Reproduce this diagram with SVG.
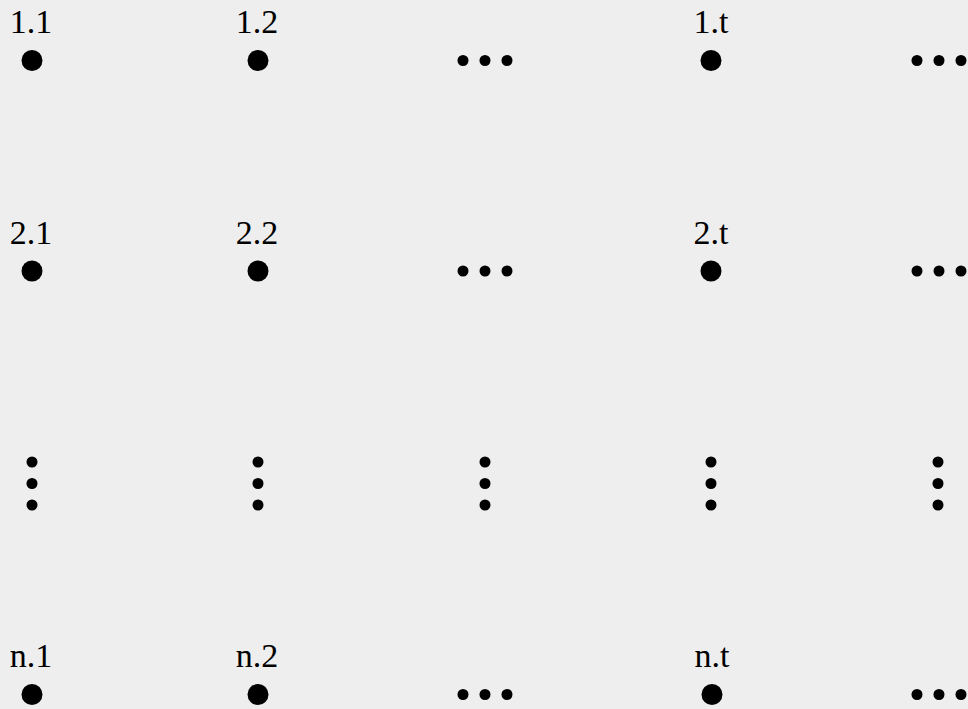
<svg xmlns="http://www.w3.org/2000/svg" width="968" height="709" viewBox="0 0 968 709">
<style>
.lbl{font-family:"Liberation Serif","DejaVu Serif",serif;font-size:34px;fill:#000;text-anchor:middle}
.node{fill:#000}
.dot{fill:#000}
</style>
<defs>
<g id="hdots"><circle cx="-22" cy="0" r="5.5"/><circle cx="0" cy="0" r="5.5"/><circle cx="22" cy="0" r="5.5"/></g>
<g id="vdots"><circle cx="0" cy="-21.5" r="5.5"/><circle cx="0" cy="0" r="5.5"/><circle cx="0" cy="21.5" r="5.5"/></g>
</defs>
<rect width="968" height="709" fill="#eeeeee"/>
<g id="n11"><text class="lbl" x="31" y="33">1.1</text><circle class="node" cx="32" cy="60.5" r="10.5"/></g>
<g id="n12"><text class="lbl" x="257" y="33">1.2</text><circle class="node" cx="258" cy="60.5" r="10.5"/></g>
<g id="n1t"><text class="lbl" x="711" y="33">1.t</text><circle class="node" cx="711" cy="60.5" r="10.5"/></g>
<g id="n21"><text class="lbl" x="31" y="243.5">2.1</text><circle class="node" cx="32" cy="271" r="10.5"/></g>
<g id="n22"><text class="lbl" x="257" y="243.5">2.2</text><circle class="node" cx="258" cy="271" r="10.5"/></g>
<g id="n2t"><text class="lbl" x="711" y="243.5">2.t</text><circle class="node" cx="711" cy="271" r="10.5"/></g>
<g id="nn1"><text class="lbl" x="31" y="667">n.1</text><circle class="node" cx="32" cy="694.5" r="10.5"/></g>
<g id="nn2"><text class="lbl" x="257" y="667">n.2</text><circle class="node" cx="258" cy="694.5" r="10.5"/></g>
<g id="nnt"><text class="lbl" x="712" y="667">n.t</text><circle class="node" cx="712" cy="694.5" r="10.5"/></g>
<g id="ellipses" class="dot">
<use href="#hdots" x="485" y="60.5"/>
<use href="#hdots" x="939" y="60.5"/>
<use href="#hdots" x="485" y="271"/>
<use href="#hdots" x="939" y="271"/>
<use href="#hdots" x="485" y="694.5"/>
<use href="#hdots" x="939" y="694.5"/>
<use href="#vdots" x="32" y="483.5"/>
<use href="#vdots" x="258" y="483.5"/>
<use href="#vdots" x="485" y="483.5"/>
<use href="#vdots" x="711" y="483.5"/>
<use href="#vdots" x="938" y="483.5"/>
</g>
<g id="connectors"></g>
</svg>
